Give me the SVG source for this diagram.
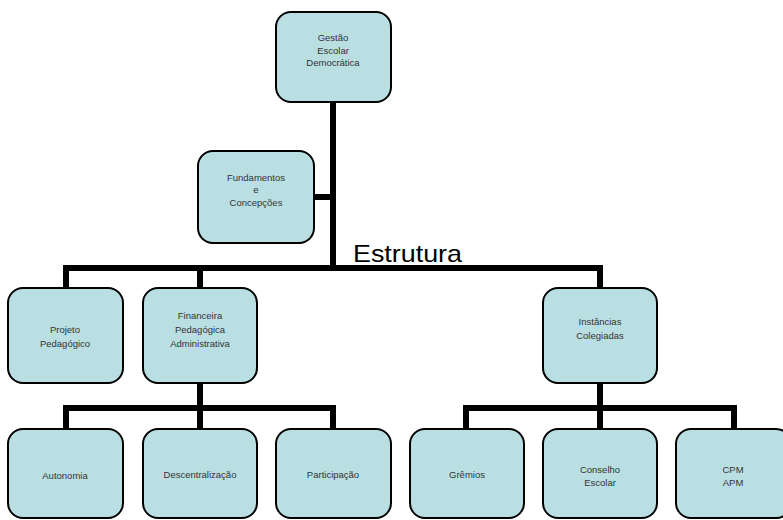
<svg xmlns="http://www.w3.org/2000/svg" width="783" height="520" viewBox="0 0 783 520">
<style>
.box{fill:#BADFE2;stroke:#000;stroke-width:2}
.lbl{font-family:"Liberation Sans",Arial,sans-serif;font-size:9.5px;fill:#333;text-anchor:middle}
.conn{fill:none;stroke:#000;stroke-width:6;stroke-linejoin:miter;stroke-linecap:butt}
.title{font-family:"Liberation Sans",Arial,sans-serif;font-size:24px;fill:#000}
</style>
<rect width="783" height="520" fill="#fff"/>
<g id="connectors">
<path class="conn" d="M333,102 V268"/>
<path class="conn" d="M314,197 H333"/>
<path class="conn" d="M66,289 V268 H600 V289"/>
<path class="conn" d="M200,268 V289"/>
<path class="conn" d="M200,382 V408"/>
<path class="conn" d="M66,430 V408 H333 V430"/>
<path class="conn" d="M200,408 V430"/>
<path class="conn" d="M600,382 V408"/>
<path class="conn" d="M466,430 V408 H734 V430"/>
<path class="conn" d="M600,408 V430"/>
</g>
<text class="title" x="353" y="262" textLength="109" lengthAdjust="spacingAndGlyphs">Estrutura</text>
<g id="gestao">
<rect class="box" x="276" y="12" width="115" height="90" rx="15"/>
<text class="lbl" x="333" y="41">Gestão</text>
<text class="lbl" x="333" y="54">Escolar</text>
<text class="lbl" x="333" y="66">Democrática</text>
</g>
<g id="fundamentos">
<rect class="box" x="198" y="151" width="116" height="92" rx="15"/>
<text class="lbl" x="256" y="181">Fundamentos</text>
<text class="lbl" x="256" y="193">e</text>
<text class="lbl" x="256" y="206">Concepções</text>
</g>
<g id="projeto">
<rect class="box" x="8" y="288" width="115" height="95" rx="15"/>
<text class="lbl" x="65" y="333">Projeto</text>
<text class="lbl" x="65" y="347">Pedagógico</text>
</g>
<g id="financeira">
<rect class="box" x="143" y="288" width="114" height="95" rx="15"/>
<text class="lbl" x="200" y="319">Financeira</text>
<text class="lbl" x="200" y="333">Pedagógica</text>
<text class="lbl" x="200" y="347">Administrativa</text>
</g>
<g id="instancias">
<rect class="box" x="543" y="288" width="114" height="95" rx="15"/>
<text class="lbl" x="600" y="325">Instâncias</text>
<text class="lbl" x="600" y="339">Colegiadas</text>
</g>
<g id="autonomia">
<rect class="box" x="8" y="429" width="115" height="89" rx="15"/>
<text class="lbl" x="65" y="479">Autonomia</text>
</g>
<g id="descentralizacao">
<rect class="box" x="143" y="429" width="114" height="89" rx="15"/>
<text class="lbl" x="200" y="478">Descentralização</text>
</g>
<g id="participacao">
<rect class="box" x="276" y="429" width="115" height="89" rx="15"/>
<text class="lbl" x="333" y="478">Participação</text>
</g>
<g id="gremios">
<rect class="box" x="410" y="429" width="114" height="89" rx="15"/>
<text class="lbl" x="467" y="478">Grêmios</text>
</g>
<g id="conselho">
<rect class="box" x="543" y="429" width="114" height="89" rx="15"/>
<text class="lbl" x="600" y="473">Conselho</text>
<text class="lbl" x="600" y="486">Escolar</text>
</g>
<g id="cpm">
<rect class="box" x="676" y="429" width="115" height="89" rx="15"/>
<text class="lbl" x="733" y="473">CPM</text>
<text class="lbl" x="733" y="486">APM</text>
</g>
</svg>
